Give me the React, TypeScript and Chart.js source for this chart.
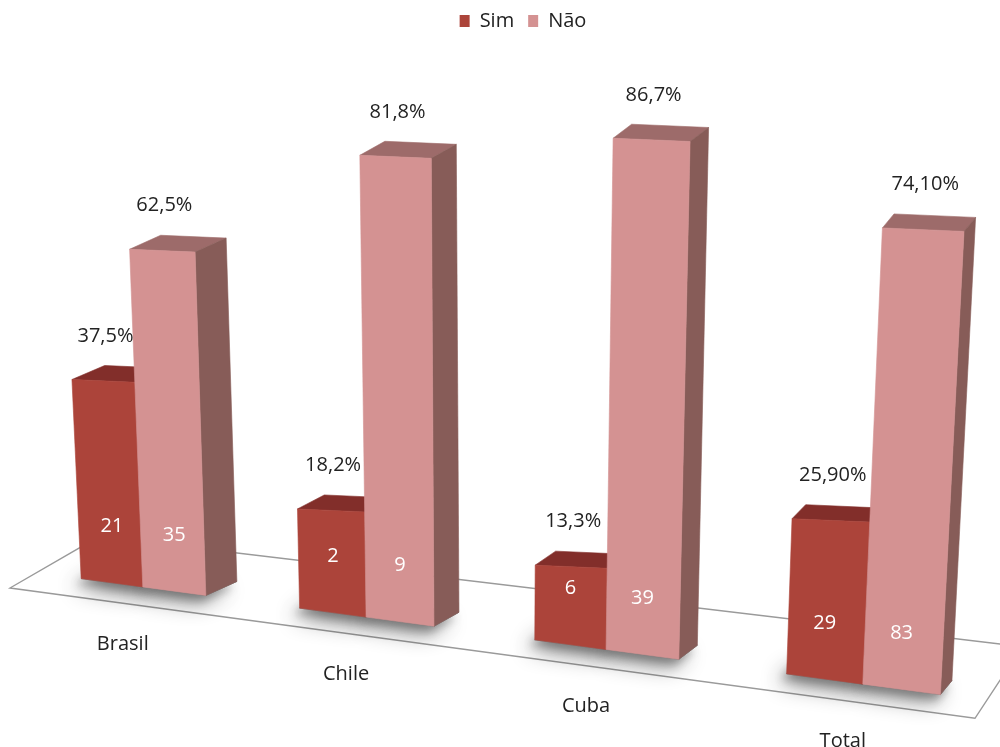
import React, { useEffect, useRef } from "react";
import { Chart, registerables } from "chart.js";

Chart.register(...registerables);

// ---------- data ----------
const categories = ["Brasil", "Chile", "Cuba", "Total"];
const seriesNames = ["Sim", "Não"];
const simPct = [37.5, 18.2, 13.3, 25.9];
const naoPct = [62.5, 81.8, 86.7, 74.1];
const simCount = [21, 2, 6, 29];
const naoCount = [35, 9, 39, 83];
const simPctLabels = ["37,5%", "18,2%", "13,3%", "25,90%"];
const naoPctLabels = ["62,5%", "81,8%", "86,7%", "74,10%"];

// ---------- styles ----------
const COLORS = [
  { front: "#AC443A", top: "#822E2A", side: "#7A2B27" },
  { front: "#D49292", top: "#9D6B6A", side: "#875C58" },
];
const FONT = "'Open Sans', 'DejaVu Sans', sans-serif";
const TEXT = "#222222";

// perspective parameters (presentation only)
const P = {
  warp: 1.45e-4,
  floorSlope: 0.135,
  heightGain: 0.00018,
  leanVx: 485,
  leanInv: 1 / 8850,
  depthDy: 14,
  depthDx0: 32,
  depthDxRef: 170,
  depthDxSlope: 0.0265,
  topSlope: 0.045,
};
const FLOOR: [number, number][] = [
  [10, 19],
  [99, -44.5],
  [1022, -59],
  [975, 19],
];
const LEGEND_CENTER = { x: 523, y: 19 };

type Pt = { x: number; y: number };
const add = (a: Pt, b: Pt): Pt => ({ x: a.x + b.x, y: a.y + b.y });

function poly(ctx: CanvasRenderingContext2D, pts: Pt[], fill: string) {
  ctx.beginPath();
  ctx.moveTo(pts[0].x, pts[0].y);
  for (let i = 1; i < pts.length; i++) ctx.lineTo(pts[i].x, pts[i].y);
  ctx.closePath();
  ctx.fillStyle = fill;
  ctx.fill();
  ctx.strokeStyle = fill;
  ctx.lineWidth = 0.6;
  ctx.stroke();
}

const perspectivePlugin = {
  id: "perspective3d",
  afterLayout(chart: any) {
    const lg = chart.legend;
    if (!lg) return;
    const dx = LEGEND_CENTER.x - (lg.left + lg.right) / 2;
    const dy = LEGEND_CENTER.y - (lg.top + lg.bottom) / 2;
    lg.left += dx;
    lg.right += dx;
    lg.top += dy;
    lg.bottom += dy;
  },
  beforeDatasetsDraw(chart: any) {
    const ctx: CanvasRenderingContext2D = chart.ctx;
    const area = chart.chartArea;
    const cx = (area.left + area.right) / 2;
    const zero = chart.scales.y.getPixelForValue(0);
    const X = (u: number) => u + P.warp * (u - cx) * (u - cx);
    const floorY = (x: number) => zero + P.floorSlope * (x - cx);
    const depthDx = (x: number) => P.depthDx0 - (x - P.depthDxRef) * P.depthDxSlope;

    ctx.save();
    // floor
    ctx.beginPath();
    FLOOR.forEach(([x, off], i) => {
      const y = floorY(x) + off;
      if (i === 0) ctx.moveTo(x, y);
      else ctx.lineTo(x, y);
    });
    ctx.closePath();
    ctx.fillStyle = "#ffffff";
    ctx.fill();
    ctx.strokeStyle = "#9a9a9a";
    ctx.lineWidth = 1.4;
    ctx.stroke();

    // build boxes
    const boxes: any[] = [];
    const n = chart.data.labels.length;
    for (let i = 0; i < n; i++) {
      for (let d = 0; d < chart.data.datasets.length; d++) {
        const el = chart.getDatasetMeta(d).data[i];
        const { x, y, width } = el.getProps(["x", "y", "width"], true);
        const l = X(x - width / 2);
        const r = X(x + width / 2);
        const xc = (l + r) / 2;
        const h = (zero - y) * (1 + P.heightGain * (xc - cx));
        const w = r - l;
        const yTop = floorY(xc) - h;
        const bl = { x: l, y: floorY(l) };
        const br = { x: r, y: floorY(r) };
        const tl = { x: l + (l - P.leanVx) * P.leanInv * h, y: yTop - (P.topSlope * w) / 2 };
        const tr = { x: r + (r - P.leanVx) * P.leanInv * h, y: yTop + (P.topSlope * w) / 2 };
        const dd = { x: depthDx(r), y: -P.depthDy };
        boxes.push({ i, d, bl, br, tl, tr, dd, xc, yTop });
      }
    }

    // shadows on the floor
    for (let pass = 0; pass < 2; pass++) {
      boxes.forEach((b) => {
        ctx.save();
        ctx.shadowColor = pass === 0 ? "rgba(0,0,0,0.45)" : "rgba(0,0,0,0.35)";
        ctx.shadowBlur = pass === 0 ? 22 : 10;
        ctx.shadowOffsetX = pass === 0 ? -8 : -4;
        ctx.shadowOffsetY = pass === 0 ? 8 : 5;
        poly(ctx, [b.bl, b.br, add(b.br, b.dd), add(b.bl, b.dd)], "#8a8a8a");
        ctx.restore();
      });
    }

    // boxes
    boxes.forEach((b) => {
      const c = COLORS[b.d];
      poly(ctx, [b.tl, b.tr, add(b.tr, b.dd), add(b.tl, b.dd)], c.top);
      poly(ctx, [b.tr, add(b.tr, b.dd), add(b.br, b.dd), b.br], c.side);
      poly(ctx, [b.tl, b.tr, b.br, b.bl], c.front);
    });

    // labels
    ctx.textAlign = "center";
    ctx.textBaseline = "middle";
    ctx.font = `20px ${FONT}`;
    boxes.forEach((b) => {
      const pctText = b.d === 0 ? simPctLabels[b.i] : naoPctLabels[b.i];
      const cntText = String(b.d === 0 ? simCount[b.i] : naoCount[b.i]);
      ctx.fillStyle = TEXT;
      ctx.fillText(pctText, (b.tl.x + b.tr.x) / 2 + 2, b.yTop - 45);
      ctx.fillStyle = "#ffffff";
      ctx.fillText(cntText, b.xc, floorY(b.xc) - 56);
    });
    ctx.fillStyle = TEXT;
    for (let i = 0; i < n; i++) {
      const sim = boxes.find((b) => b.i === i && b.d === 0);
      const gx = sim.br.x;
      ctx.fillText(String(chart.data.labels[i]), gx - 20, floorY(gx) + 57);
    }
    ctx.restore();
    return false;
  },
};

export default function App() {
  const ref = useRef<HTMLCanvasElement>(null);
  useEffect(() => {
    const chart = new Chart(ref.current as HTMLCanvasElement, {
      type: "bar",
      data: {
        labels: categories,
        datasets: [
          { label: seriesNames[0], data: simPct, backgroundColor: COLORS[0].front, borderWidth: 0 },
          { label: seriesNames[1], data: naoPct, backgroundColor: COLORS[1].front, borderWidth: 0 },
        ],
      },
      options: {
        animation: false,
        responsive: true,
        maintainAspectRatio: false,
        layout: { padding: { top: 12, bottom: 114, left: 4, right: 36 } },
        datasets: { bar: { categoryPercentage: 0.58, barPercentage: 1 } },
        scales: {
          x: { display: false },
          y: { display: false, min: 0, max: 100 },
        },
        plugins: {
          legend: {
            display: true,
            position: "top",
            labels: {
              font: { family: FONT, size: 20 },
              color: TEXT,
              boxWidth: 10,
              boxHeight: 12,
              padding: 14,
            },
          },
          tooltip: { enabled: false },
        },
      } as any,
      plugins: [perspectivePlugin as any],
    });
    return () => chart.destroy();
  }, []);
  return (
    <div style={{ position: "fixed", left: 0, top: 0, width: 1000, height: 747, background: "#ffffff" }}>
      <canvas ref={ref} />
    </div>
  );
}
